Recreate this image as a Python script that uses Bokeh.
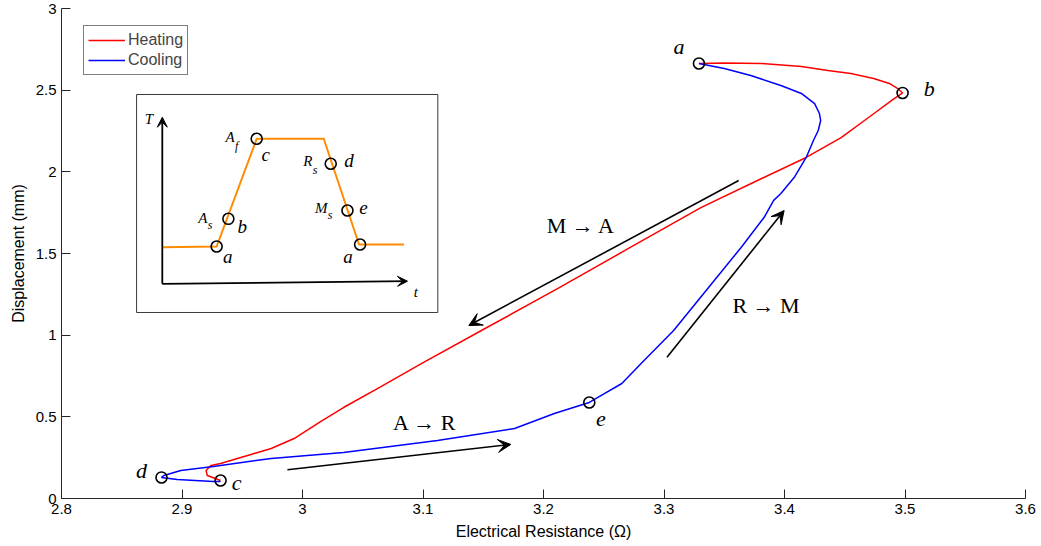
from bokeh.plotting import figure
from bokeh.models import (Range1d, FixedTicker, CustomJSTickFormatter, Legend, LegendItem,
                          Arrow, VeeHead, ColumnDataSource)
from bokeh.core.properties import value
from bokeh.embed import file_html
from bokeh.resources import INLINE

# ---------------- data ----------------
heat_x = [2.932, 2.921, 2.920, 2.924, 2.932, 2.946, 2.960, 2.974, 2.993, 3.015, 3.034, 3.064,
          3.099, 3.153, 3.212, 3.272, 3.331, 3.381, 3.418, 3.447, 3.472, 3.489, 3.498, 3.494,
          3.487, 3.474, 3.455, 3.436, 3.414, 3.381, 3.350, 3.329]
heat_y = [0.110, 0.141, 0.171, 0.202, 0.214, 0.245, 0.276, 0.306, 0.367, 0.471, 0.557, 0.680,
          0.827, 1.047, 1.286, 1.537, 1.782, 1.959, 2.088, 2.210, 2.345, 2.437, 2.483, 2.510,
          2.541, 2.571, 2.602, 2.620, 2.645, 2.663, 2.666, 2.663]

cool_x = [3.329, 3.350, 3.372, 3.397, 3.414, 3.425, 3.429, 3.430, 3.428, 3.424, 3.418, 3.408,
          3.397, 3.391, 3.383, 3.364, 3.337, 3.308, 3.281, 3.265, 3.248, 3.238, 3.209, 3.176,
          3.112, 3.034, 2.974, 2.926, 2.899, 2.885, 2.883, 2.896, 2.926, 2.932]
cool_y = [2.663, 2.633, 2.590, 2.529, 2.480, 2.418, 2.357, 2.314, 2.253, 2.192, 2.088, 1.965,
          1.867, 1.825, 1.720, 1.537, 1.292, 1.029, 0.827, 0.704, 0.631, 0.588, 0.520, 0.429,
          0.355, 0.282, 0.245, 0.196, 0.171, 0.141, 0.129, 0.116, 0.104, 0.104]

pt_names = ["a", "b", "e", "d", "c"]
pt_x = [3.329, 3.498, 3.238, 2.883, 2.932]
pt_y = [2.663, 2.483, 0.588, 0.129, 0.110]
lbl_x = [3.3125, 3.5201, 3.2477, 2.8664, 2.9453]
lbl_y = [2.765, 2.508, 0.488, 0.169, 0.096]

arrow_names = ["M \u2192 A", "R \u2192 M", "A \u2192 R"]
arrow_x0 = [3.362, 3.3025, 2.9875]
arrow_y0 = [1.947, 0.865, 0.176]
arrow_x1 = [3.138, 3.3997, 3.1729]
arrow_y1 = [1.059, 1.763, 0.331]
arrow_text_x = [3.2311, 3.3847, 3.1015]
arrow_text_y = [1.671, 1.182, 0.465]

x_ticks = [2.8, 2.9, 3.0, 3.1, 3.2, 3.3, 3.4, 3.5, 3.6]
y_ticks = [0, 0.5, 1, 1.5, 2, 2.5, 3]

# inset schematic (T vs t), in normalized inset units (0..1)
inset_box = [2.8623, 3.1123, 1.1388, 2.4735]  # left, right, bottom, top (data units)
sched_u = [0.0854, 0.2658, 0.3987, 0.6213, 0.7385, 0.8880]
sched_v = [0.2995, 0.3028, 0.7968, 0.7968, 0.3119, 0.3119]
inset_pt_u = [0.2658, 0.3047, 0.3987, 0.6445, 0.7000, 0.7420]
inset_pt_v = [0.3028, 0.4297, 0.7968, 0.6821, 0.4679, 0.3119]
inset_lbl = ["a", "b", "c", "d", "e", "a"]
inset_lbl_u = [0.303, 0.351, 0.429, 0.705, 0.753, 0.702]
inset_lbl_v = [0.255, 0.396, 0.726, 0.697, 0.483, 0.255]
inset_base = ["A", "A", "R", "M"]
inset_base_u = [0.235, 0.326, 0.584, 0.634]
inset_base_v = [0.434, 0.804, 0.694, 0.480]
inset_sub = ["s", "f", "s", "s"]
inset_sub_u = [0.236, 0.327, 0.585, 0.635]
inset_sub_v = [0.400, 0.766, 0.655, 0.445]
inset_axis_u0 = [0.0854, 0.0854]
inset_axis_v0 = [0.1317, 0.1317]
inset_axis_u1 = [0.0854, 0.8993]
inset_axis_v1 = [0.8959, 0.1436]
inset_axis_names = ["T", "t"]
inset_axis_lbl_u = [0.041, 0.927]
inset_axis_lbl_v = [0.889, 0.093]


def ix(us):
    return [inset_box[0] + u * (inset_box[1] - inset_box[0]) for u in us]


def iy(vs):
    return [inset_box[2] + v * (inset_box[3] - inset_box[2]) for v in vs]


SERIF = value("Liberation Serif")

p = figure(width=1041, height=546, output_backend="svg", toolbar_location=None,
           x_range=Range1d(2.8, 3.6), y_range=Range1d(0, 3),
           min_border_left=61, min_border_right=16, min_border_top=8, min_border_bottom=48)
p.outline_line_color = None
p.background_fill_color = "white"
p.border_fill_color = "white"
p.grid.visible = False

fmt = CustomJSTickFormatter(code=r"return tick.toFixed(1).replace(/\.0$/, '');")
for ax, ticks in ((p.xaxis[0], x_ticks), (p.yaxis[0], y_ticks)):
    ax.ticker = FixedTicker(ticks=ticks)
    ax.formatter = fmt
    ax.major_tick_in = 9
    ax.major_tick_out = 0
    ax.minor_tick_line_color = None
    ax.axis_line_color = "#262626"
    ax.major_tick_line_color = "#262626"
    ax.major_label_text_font = "Liberation Sans"
    ax.major_label_text_font_size = "15px"
    ax.major_label_text_color = "black"
    ax.major_label_standoff = 5
    ax.axis_label_text_font = "Liberation Sans"
    ax.axis_label_text_font_size = "16px"
    ax.axis_label_text_font_style = "normal"
    ax.axis_label_text_color = "black"
    ax.axis_label_standoff = 6
p.xaxis.axis_label = "Electrical Resistance (\u03a9)"
p.yaxis.axis_label = "Displacement (mm)"

# curves
r_heat = p.line(heat_x, heat_y, line_color="#ff0000", line_width=1.5)
r_cool = p.line(cool_x, cool_y, line_color="#0000ff", line_width=1.5)

# state markers and letters
p.scatter(pt_x, pt_y, marker="circle", size=11, fill_color=None, line_color="black", line_width=1.6)
p.text(x=lbl_x, y=lbl_y, text=pt_names, text_font=SERIF, text_font_style="italic",
       text_font_size="22px", text_align="center", text_baseline="middle", text_color="black")

# arrows and phase-transformation labels
asrc = ColumnDataSource(dict(x0=arrow_x0, y0=arrow_y0, x1=arrow_x1, y1=arrow_y1))
p.add_layout(Arrow(end=VeeHead(size=13, fill_color="black", line_color="black", line_width=1),
                   source=asrc, x_start="x0", y_start="y0", x_end="x1", y_end="y1",
                   line_color="black", line_width=1.6))
p.text(x=arrow_text_x, y=arrow_text_y, text=arrow_names, text_font=SERIF,
       text_font_size="22px", text_align="center", text_baseline="middle", text_color="black")

# ---- inset ----
p.quad(left=[inset_box[0]], right=[inset_box[1]], bottom=[inset_box[2]], top=[inset_box[3]],
       fill_color="white", line_color="#3a3a3a", line_width=1)
isrc = ColumnDataSource(dict(x0=ix(inset_axis_u0), y0=iy(inset_axis_v0),
                             x1=ix(inset_axis_u1), y1=iy(inset_axis_v1)))
p.add_layout(Arrow(end=VeeHead(size=10, fill_color="black", line_color="black", line_width=1),
                   source=isrc, x_start="x0", y_start="y0", x_end="x1", y_end="y1",
                   line_color="black", line_width=1.8))
p.line(ix(sched_u), iy(sched_v), line_color="#ff8c00", line_width=2)
p.scatter(ix(inset_pt_u), iy(inset_pt_v), marker="circle", size=11, fill_color=None,
          line_color="black", line_width=1.6)
p.text(x=ix(inset_lbl_u), y=iy(inset_lbl_v), text=inset_lbl, text_font=SERIF,
       text_font_style="italic", text_font_size="19px", text_align="center",
       text_baseline="middle", text_color="black")
p.text(x=ix(inset_base_u), y=iy(inset_base_v), text=inset_base, text_font=SERIF,
       text_font_style="italic", text_font_size="15px", text_align="right",
       text_baseline="middle", text_color="black")
p.text(x=ix(inset_sub_u), y=iy(inset_sub_v), text=inset_sub, text_font=SERIF,
       text_font_style="italic", text_font_size="12px", text_align="left",
       text_baseline="middle", text_color="black")
p.text(x=ix(inset_axis_lbl_u), y=iy(inset_axis_lbl_v), text=inset_axis_names, text_font=SERIF,
       text_font_style="italic", text_font_size="15px", text_align="center",
       text_baseline="middle", text_color="black")

# legend
legend = Legend(items=[LegendItem(label="Heating", renderers=[r_heat]),
                       LegendItem(label="Cooling", renderers=[r_cool])],
                location=(22, 423), margin=0, padding=4, spacing=0,
                glyph_width=37, glyph_height=20, label_height=20, label_standoff=3,
                label_text_font="Liberation Sans", label_text_font_size="16px",
                border_line_color="black", border_line_width=1,
                background_fill_color="white", background_fill_alpha=1)
p.add_layout(legend)

open("out.html", "w").write(file_html(p, INLINE))
